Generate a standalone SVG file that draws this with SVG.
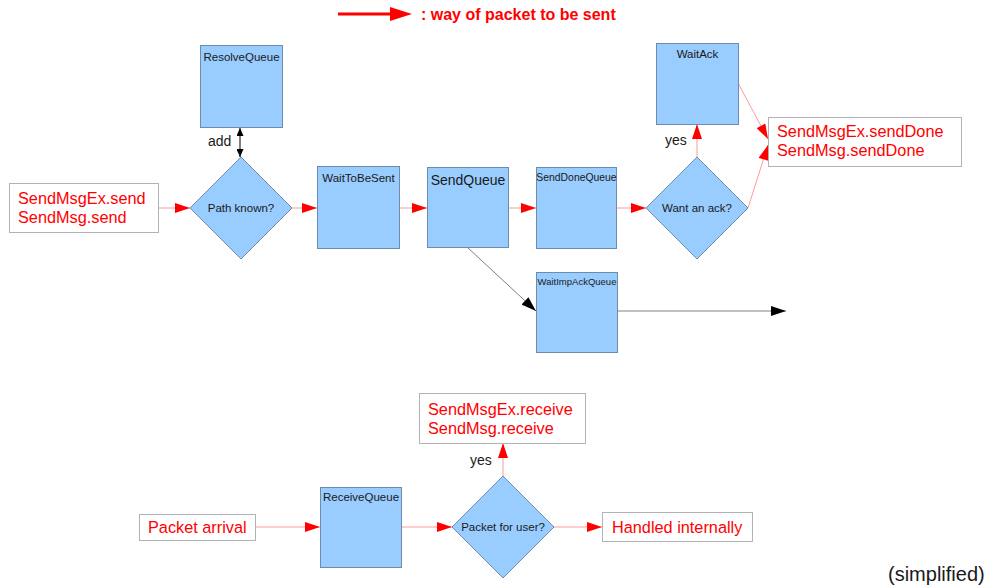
<svg xmlns="http://www.w3.org/2000/svg" width="990" height="587" viewBox="0 0 990 587">
<defs>
<style>
.q{fill:#99ccff;stroke:#6d8bab;stroke-width:1}
.tb{fill:#ffffff;stroke:#b3b3b3;stroke-width:1}
.lbl{font-family:"Liberation Sans",Arial,sans-serif;fill:#1a1a1a;text-anchor:middle}
.red{font-family:"Liberation Sans",Arial,sans-serif;fill:#ff0000;font-size:16.3px}
.blk{font-family:"Liberation Sans",Arial,sans-serif;fill:#1a1a1a;font-size:14px}
.rc{stroke:#ff9999;stroke-width:1;fill:none;marker-end:url(#ra)}
.bc{stroke:#808080;stroke-width:1;fill:none;marker-end:url(#ba)}
</style>
<marker id="ra" markerUnits="userSpaceOnUse" markerWidth="16" markerHeight="10" refX="15" refY="5" orient="auto" viewBox="0 0 15 10">
<path d="M0,0 L15,5 L0,10 z" fill="#ff0000"/>
</marker>
<marker id="ba" markerUnits="userSpaceOnUse" markerWidth="16" markerHeight="10" refX="15" refY="5" orient="auto" viewBox="0 0 15 10">
<path d="M0,0 L15,5 L0,10 z" fill="#000000"/>
</marker>
<marker id="bs" markerUnits="userSpaceOnUse" markerWidth="8" markerHeight="7" refX="8" refY="3.5" orient="auto-start-reverse" viewBox="0 0 8 7">
<path d="M0,0 L8,3.5 L0,7 z" fill="#000000"/>
</marker>
</defs>
<rect width="990" height="587" fill="#ffffff"/>

<g id="legend">
<line x1="338" y1="14" x2="392" y2="14" stroke="#ff0000" stroke-width="3"/>
<polygon points="390,7 412,14 390,21" fill="#ff0000"/>
<text x="421" y="20" font-family="'Liberation Sans',Arial,sans-serif" font-size="16" font-weight="bold" fill="#ff0000">: way of packet to be sent</text>
</g>

<g id="connectors">
<line class="rc" x1="158" y1="208" x2="190" y2="208"/>
<line class="rc" x1="292" y1="208" x2="317" y2="208"/>
<line class="rc" x1="399" y1="208" x2="427" y2="208"/>
<line class="rc" x1="508" y1="208" x2="536" y2="208"/>
<line class="rc" x1="616" y1="208" x2="646" y2="208"/>
<line class="rc" x1="697" y1="157" x2="697" y2="124"/>
<line class="rc" x1="738" y1="83" x2="768" y2="139"/>
<line class="rc" x1="748" y1="208" x2="768" y2="145"/>
<line class="bc" x1="467" y1="247" x2="536" y2="311"/>
<line class="bc" x1="617" y1="311" x2="786" y2="311"/>
<line x1="240" y1="128" x2="240" y2="157" stroke="#000000" stroke-width="1" marker-start="url(#bs)" marker-end="url(#bs)"/>
<line class="rc" x1="255" y1="527" x2="320" y2="527"/>
<line class="rc" x1="401" y1="527" x2="452" y2="527"/>
<line class="rc" x1="503" y1="476" x2="503" y2="443"/>
<line class="rc" x1="554" y1="527" x2="602" y2="527"/>
<text class="blk" x="208" y="146">add</text>
<text class="blk" x="665" y="145">yes</text>
<text class="blk" x="470" y="465">yes</text>
</g>

<g id="sendMsgSend">
<rect class="tb" x="9.5" y="183.5" width="149" height="49"/>
<text class="red" x="18" y="204">SendMsgEx.send</text>
<text class="red" x="18" y="223">SendMsg.send</text>
</g>

<g id="resolveQueue">
<rect class="q" x="200.5" y="45.5" width="82" height="82"/>
<text class="lbl" x="241.5" y="61" font-size="11.5">ResolveQueue</text>
</g>

<g id="pathKnown">
<polygon class="q" points="241,157 292,208 241,259 190,208"/>
<text class="lbl" x="241" y="212" font-size="11.5">Path known?</text>
</g>

<g id="waitToBeSent">
<rect class="q" x="317.5" y="166.5" width="82" height="82"/>
<text class="lbl" x="358.5" y="182" font-size="11.5">WaitToBeSent</text>
</g>

<g id="sendQueue">
<rect class="q" x="427.5" y="167.5" width="81" height="80"/>
<text class="lbl" x="468" y="185" font-size="14">SendQueue</text>
</g>

<g id="sendDoneQueue">
<rect class="q" x="536.5" y="167.5" width="80" height="81"/>
<text class="lbl" x="576.5" y="181" font-size="10.4">SendDoneQueue</text>
</g>

<g id="wantAck">
<polygon class="q" points="697,157 748,208 697,259 646,208"/>
<text class="lbl" x="697" y="212" font-size="11.5">Want an ack?</text>
</g>

<g id="waitAck">
<rect class="q" x="656.5" y="43.5" width="82" height="81"/>
<text class="lbl" x="697.5" y="58" font-size="11.5">WaitAck</text>
</g>

<g id="sendDone">
<rect class="tb" x="768.5" y="117.5" width="193" height="49"/>
<text class="red" x="777" y="137">SendMsgEx.sendDone</text>
<text class="red" x="777" y="156">SendMsg.sendDone</text>
</g>

<g id="waitImpAckQueue">
<rect class="q" x="536.5" y="272.5" width="81" height="80"/>
<text class="lbl" x="577" y="285" font-size="9.5">WaitImpAckQueue</text>
</g>

<g id="packetArrival">
<rect class="tb" x="139.5" y="514.5" width="116" height="26"/>
<text class="red" x="148" y="533">Packet arrival</text>
</g>

<g id="receiveQueue">
<rect class="q" x="320.5" y="487.5" width="81" height="80"/>
<text class="lbl" x="361" y="501" font-size="11.5">ReceiveQueue</text>
</g>

<g id="packetForUser">
<polygon class="q" points="503,476 554,527 503,578 452,527"/>
<text class="lbl" x="503" y="531" font-size="11.5">Packet for user?</text>
</g>

<g id="receive">
<rect class="tb" x="419.5" y="393.5" width="166" height="50"/>
<text class="red" x="428" y="415">SendMsgEx.receive</text>
<text class="red" x="428" y="434">SendMsg.receive</text>
</g>

<g id="handledInternally">
<rect class="tb" x="602.5" y="512.5" width="150" height="29"/>
<text class="red" x="612" y="533">Handled internally</text>
</g>

<text x="888" y="581" font-family="'Liberation Sans',Arial,sans-serif" font-size="20" fill="#1a1a1a">(simplified)</text>
</svg>
